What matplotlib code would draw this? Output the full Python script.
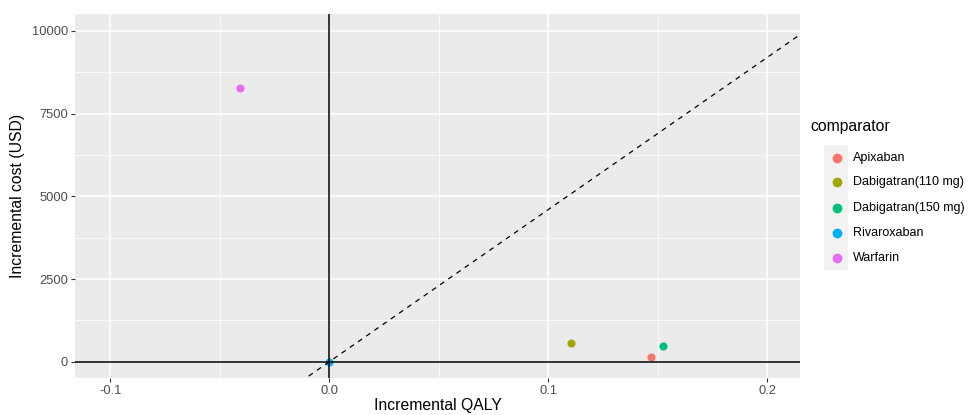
import numpy as np
import matplotlib
matplotlib.use("Agg")
from matplotlib import pyplot as plt
from matplotlib.lines import Line2D
from matplotlib.patches import Rectangle

plt.rcParams['font.family'] = ['Liberation Sans', 'DejaVu Sans']

# data
comparators = ['Apixaban', 'Dabigatran(110 mg)', 'Dabigatran(150 mg)', 'Rivaroxaban', 'Warfarin']
inc_qaly = [0.147, 0.1104, 0.1522, 0.0, -0.0406]
inc_cost = [142, 555, 476, 0, 8273]
colors = ['#F8766D', '#A3A500', '#00BF7D', '#00B0F6', '#E76BF3']
wtp = 46000  # slope of the dashed threshold line

x_ticks = [-0.1, 0.0, 0.1, 0.2]
x_labels = ['-0.1', '0.0', '0.1', '0.2']
y_ticks = [0, 2500, 5000, 7500, 10000]

fig = plt.figure(figsize=(9.69, 4.15), dpi=100)
ax = fig.add_axes([75 / 969, 37 / 415, 725 / 969, 364 / 415])
ax.set_facecolor('#EBEBEB')
for s in ax.spines.values():
    s.set_visible(False)

ax.set_xlim(-0.1162, 0.2150)
ax.set_ylim(-493, 10514)

# grid
ax.set_xticks(x_ticks)
ax.set_xticklabels(x_labels)
ax.set_yticks(y_ticks)
ax.set_xticks([-0.05, 0.05, 0.15], minor=True)
ax.set_yticks([1250, 3750, 6250, 8750], minor=True)
ax.grid(which='major', color='white', linewidth=1.1)
ax.grid(which='minor', color='white', linewidth=0.55)
ax.set_axisbelow(True)
ax.tick_params(which='major', length=3, width=0.8, color='#333333',
               labelcolor='#4D4D4D', labelsize=9.3, pad=2)
ax.tick_params(which='minor', length=0)

# points
for q, c, col in zip(inc_qaly, inc_cost, colors):
    ax.scatter(q, c, s=34, color=col, zorder=2, linewidths=0)

# reference lines
ax.axvline(0, color='black', linewidth=1.1, zorder=3)
ax.axhline(0, color='black', linewidth=1.1, zorder=3)
xs = np.array([-0.1162, 0.2150])
ax.plot(xs, wtp * xs, color='black', linestyle=(0, (4, 4)), linewidth=0.9, zorder=3)

ax.set_xlabel('Incremental QALY', fontsize=11.3, labelpad=1)
ax.set_ylabel('Incremental cost (USD)', fontsize=11.3, labelpad=5)

# legend
fig.text(810 / 969, 1 - 127 / 415, 'comparator', fontsize=11.3, va='center', ha='left')
fig.patches.append(Rectangle((824 / 969, 1 - 270 / 415), 24 / 969, 125 / 415,
                             transform=fig.transFigure, facecolor='#F2F2F2',
                             edgecolor='none', zorder=0))
key_y = [158, 182, 208, 233, 258]
for yk, name, col in zip(key_y, comparators, colors):
    fig.add_artist(Line2D([837 / 969], [1 - yk / 415], marker='o', markersize=6,
                          color=col, linestyle='none', transform=fig.transFigure))
    fig.text(853 / 969, 1 - yk / 415, name, fontsize=9, va='center', ha='left')

plt.savefig('out.png', dpi=100)
